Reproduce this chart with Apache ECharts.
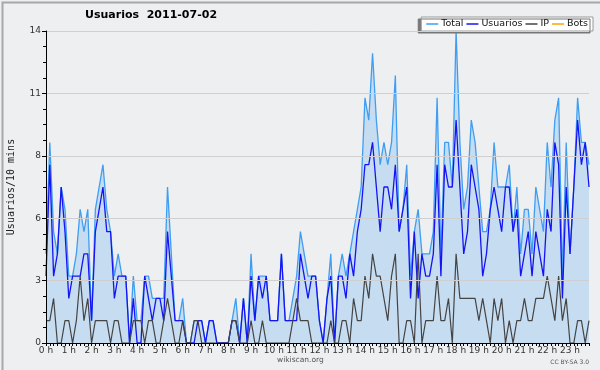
<!DOCTYPE html>
<html><head><meta charset="utf-8">
<script src="https://cdn.jsdelivr.net/npm/echarts@6/dist/echarts.min.js"></script>
<style>html,body{margin:0;padding:0;background:#eeeff1}#c{width:600px;height:370px}</style>
</head><body><div id="c"></div>
<script>
const hourLabels = ['0 h','1 h','2 h','3 h','4 h','5 h','6 h','7 h','8 h','9 h','10 h','11 h','12 h','13 h','14 h','15 h','16 h','17 h','18 h','19 h','20 h','21 h','22 h','23 h'];
const yTicks = [0, 2.8, 5.6, 8.4, 11.2, 14];
const total = [4,9,5,4,7,6,3,3,4,6, 5,6,1,6,7,8,6,5,3,4, 3,3,0,3,1,1,3,3,2,2, 2,2,7,4,1,1,2,0,0,1,
  1,1,0,1,1,0,0,0,0,1, 2,0,2,0,4,1,3,3,3,1, 1,1,4,1,1,2,3,5,4,3, 3,3,1,0,2,4,0,3,4,3,
  4,5,6,7,11,10,13,10,8,9, 8,9,12,5,6,8,3,5,6,4, 4,4,5,11,4,9,9,7,14,9, 6,7,10,9,7,5,5,6,9,7,
  7,7,8,5,7,4,6,6,4,7, 6,5,9,7,10,11,3,9,4,7, 11,9,9,8];
const usuarios = [3,8,3,4,7,5,2,3,3,3, 4,4,1,5,6,7,5,5,2,3, 3,3,0,2,0,0,3,2,1,2, 2,1,5,3,1,1,1,0,0,0,
  1,1,0,1,1,0,0,0,0,1, 1,0,2,0,3,1,3,2,3,1, 1,1,4,1,1,1,1,4,3,2, 3,3,1,0,2,3,0,3,3,2,
  4,3,5,6,8,8,9,7,5,7, 7,6,8,5,6,7,2,5,2,4, 3,3,4,8,3,8,7,7,10,7, 4,5,8,7,6,3,4,6,7,6,
  5,7,7,5,6,3,4,5,3,5, 4,3,6,5,9,8,2,7,4,7, 10,8,9,7];
const ip = [1,1,2,0,0,1,1,0,1,3, 1,2,0,1,1,1,1,0,1,1, 0,0,0,1,1,1,0,1,1,0, 0,1,2,1,0,0,1,0,0,1,
  1,0,0,0,0,0,0,0,0,1, 1,0,0,0,1,0,0,1,0,0, 0,0,0,0,0,1,2,1,1,1, 0,0,0,0,0,1,0,0,1,1,
  0,2,1,1,3,2,4,3,3,2, 1,3,4,0,0,1,1,0,4,0, 1,1,1,3,1,1,2,0,4,2, 2,2,2,2,1,2,1,0,2,1,
  2,0,1,0,1,1,2,1,1,2, 2,2,3,2,1,3,1,2,0,0, 1,1,0,1];
const bots = [0,0,0,0,0,0,0,0,0,0, 0,0,0,0,0,0,0,0,0,0, 0,0,0,0,0,0,0,0,0,0, 0,0,0,0,0,0,0,0,0,0,
  0,0,0,0,0,0,0,0,0,0, 0,0,0,0,0,0,0,0,0,0, 0,0,0,0,0,0,0,0,0,0, 0,0,0,0,0,0,0,0,0,0,
  0,0,0,0,0,0,0,0,0,0, 0,0,0,0,0,0,0,0,0,0, 0,0,0,0,0,0,0,0,0,0, 0,0,0,0,0,0,0,0,0,0,
  0,0,0,0,0,0,0,0,0,0, 0,0,0,0,0,0,0,0,0,0, 0,0,0,0];
const slots = [];
for (let h = 0; h < 24; h++) for (let m = 0; m < 60; m += 10) slots.push(h + ':' + (m < 10 ? '0' : '') + m);

const C_TOTAL = '#3f9ef2', C_USU = '#1414f5', C_IP = '#444444', C_BOTS = '#ffa000';
const F = 'DejaVu Sans';
const chart = echarts.init(document.getElementById('c'), null, {renderer: 'canvas'});
chart.setOption({
  animation: false,
  backgroundColor: '#eeeff1',
  title: {text: 'Usuarios  2011-07-02', left: 85, top: 10, padding: 0,
    textStyle: {fontFamily: F, fontWeight: 'bold', fontSize: 11, color: '#000'}},
  legend: {
    right: 7, top: 17, padding: [2, 5, 2, 5], itemGap: 3, itemWidth: 12, itemHeight: 1.5, icon: 'rect',
    backgroundColor: '#ffffff', borderColor: '#999', borderWidth: 1,
    shadowColor: '#777', shadowBlur: 0, shadowOffsetX: -3, shadowOffsetY: 2,
    textStyle: {fontFamily: F, fontSize: 9.5, color: '#111', padding: [0, 0, 0, -2]},
    data: [
      {name: 'Total', itemStyle: {color: C_TOTAL}},
      {name: 'Usuarios', itemStyle: {color: C_USU}},
      {name: 'IP', itemStyle: {color: C_IP}},
      {name: 'Bots', itemStyle: {color: C_BOTS}}
    ]
  },
  grid: {left: 46, right: 11, top: 31, bottom: 27, containLabel: false, outerBoundsMode: 'none'},
  xAxis: {
    type: 'category', data: slots, boundaryGap: false, z: 10,
    axisLine: {lineStyle: {color: '#000', width: 1}},
    axisTick: {interval: 0, length: 3, lineStyle: {color: '#000'}},
    axisLabel: {interval: (i) => i % 6 === 0, formatter: (v, i) => hourLabels[Math.floor(i / 6)],
      fontFamily: F, fontSize: 9, color: '#333', margin: 3},
    splitLine: {show: false}
  },
  yAxis: {
    type: 'value', min: yTicks[0], max: yTicks[yTicks.length - 1], interval: yTicks[1], z: 10,
    name: 'Usuarios/10 mins', nameLocation: 'middle', nameGap: 30, nameRotate: 90,
    nameTextStyle: {fontFamily: 'DejaVu Sans Mono', fontSize: 10, color: '#222'},
    axisLine: {show: true, lineStyle: {color: '#000'}},
    axisTick: {show: true, length: 4, lineStyle: {color: '#000'}},
    minorTick: {show: true, splitNumber: 4, length: 3, lineStyle: {color: '#000'}},
    axisLabel: {formatter: (v) => String(Math.round(v)), fontFamily: F, fontSize: 9, color: '#333', margin: 5},
    splitLine: {lineStyle: {color: '#cfcfd2', width: 1}}
  },
  series: [
    {name: 'Bots', type: 'line', data: bots, showSymbol: false, z: 1,
      lineStyle: {color: C_BOTS, width: 1}, itemStyle: {color: C_BOTS}},
    {name: 'Total', type: 'line', data: total, showSymbol: false, z: 2,
      lineStyle: {color: C_TOTAL, width: 1.3}, itemStyle: {color: C_TOTAL},
      areaStyle: {color: '#c6dcf0', opacity: 1}},
    {name: 'Usuarios', type: 'line', data: usuarios, showSymbol: false, z: 3,
      lineStyle: {color: C_USU, width: 1.3}, itemStyle: {color: C_USU}},
    {name: 'IP', type: 'line', data: ip, showSymbol: false, z: 4,
      lineStyle: {color: C_IP, width: 1.2}, itemStyle: {color: C_IP}}
  ],
  graphic: [
    {type: 'rect', left: 0, top: 0, shape: {width: 600, height: 370}, silent: true, z: 100,
      style: {fill: null, stroke: '#a8a8a8', lineWidth: 2}},
    {type: 'text', left: 277, top: 356, z: 100,
      style: {text: 'wikiscan.org', font: '7.5px "DejaVu Sans"', fill: '#555'}},
    {type: 'text', right: 11, top: 359, z: 100,
      style: {text: 'CC BY-SA 3.0', font: '6px "DejaVu Sans"', fill: '#555'}}
  ]
});
</script></body></html>
